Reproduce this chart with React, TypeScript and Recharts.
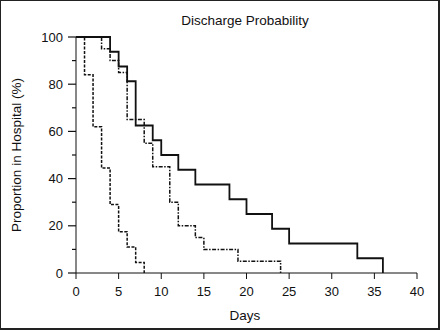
import { Line, LineChart, XAxis, YAxis } from "recharts";

// solid line
const solidDays = [0, 4, 5, 6, 7, 9, 10, 12, 14, 18, 20, 23, 25, 33, 36];
const solidProp = [100, 93.75, 87.5, 81.25, 62.5, 56.25, 50, 43.75, 37.5, 31.25, 25, 18.75, 12.5, 6.25, 0];

// dash-dot line
const dashDotDays = [0, 3, 4, 5, 6, 8, 9, 11, 12, 14, 15, 19, 24];
const dashDotProp = [100, 95, 90, 85, 65, 55, 45, 30, 20, 15, 10, 5, 0];

// dashed line
const dashedDays = [0, 1, 2, 3, 4, 5, 6, 7, 8];
const dashedProp = [100, 84, 62, 44.5, 29, 17.5, 11, 4.5, 0];

const xTicks = [0, 5, 10, 15, 20, 25, 30, 35, 40];
const yTicks = [0, 10, 20, 30, 40, 50, 60, 70, 80, 90, 100];

const toRows = (days: number[], vals: number[]) => days.map((d, i) => ({ day: d, p: vals[i] }));

const font = "'Liberation Sans', Arial, sans-serif";
const ink = "#111";

function YTick({ x, y, payload }: any) {
  const major = payload.value % 20 === 0;
  return (
    <g>
      <line x1={x - (major ? 8 : 4)} x2={x} y1={y} y2={y} stroke={ink} strokeWidth={1.2} />
      {major && (
        <text x={x - 13} y={y} dy="0.36em" textAnchor="end" fontSize={13} fontFamily={font} fill={ink}>
          {payload.value}
        </text>
      )}
    </g>
  );
}

export default function App() {
  return (
    <div
      style={{
        position: "absolute",
        left: 0,
        top: 0,
        width: 440,
        height: 330,
        background: "#fff",
        boxShadow: "inset 1px 1px 0 #222, inset -2px -2px 0 #222",
      }}
    >
      <svg width={440} height={330} style={{ position: "absolute", left: 0, top: 0 }}>
        <g fontFamily={font} fontSize={13.5} fill={ink} textAnchor="middle">
          <text x={245} y={20} dy="0.36em">Discharge Probability</text>
          <text x={245} y={315} dy="0.36em">Days</text>
          <text x={16} y={155} dy="0.36em" transform="rotate(-90 16 155)">
            Proportion in Hospital (%)
          </text>
        </g>
      </svg>
      <div style={{ position: "absolute", left: 0, top: 0 }}>
        <LineChart width={440} height={330} margin={{ top: 37, right: 23, bottom: 12, left: 0 }}>
          <XAxis
            dataKey="day"
            type="number"
            domain={[0, 40]}
            ticks={xTicks}
            allowDataOverflow
            height={45}
            tickSize={6}
            tickMargin={8}
            stroke={ink}
            tick={{ fill: ink, fontSize: 13, fontFamily: font }}
          />
          <YAxis
            type="number"
            domain={[0, 100]}
            ticks={yTicks}
            width={76}
            tickSize={0}
            tickMargin={0}
            tickLine={false}
            stroke={ink}
            tick={<YTick />}
          />
          <Line
            data={toRows(solidDays, solidProp)}
            dataKey="p"
            type="stepAfter"
            stroke={ink}
            strokeWidth={1.8}
            dot={false}
            isAnimationActive={false}
          />
          <Line
            data={toRows(dashDotDays, dashDotProp)}
            dataKey="p"
            type="stepAfter"
            stroke={ink}
            strokeWidth={1.5}
            strokeDasharray="4 1.5 1.5 1.5"
            dot={false}
            isAnimationActive={false}
          />
          <Line
            data={toRows(dashedDays, dashedProp)}
            dataKey="p"
            type="stepAfter"
            stroke={ink}
            strokeWidth={1.5}
            strokeDasharray="3 1.5"
            dot={false}
            isAnimationActive={false}
          />
        </LineChart>
      </div>
    </div>
  );
}
